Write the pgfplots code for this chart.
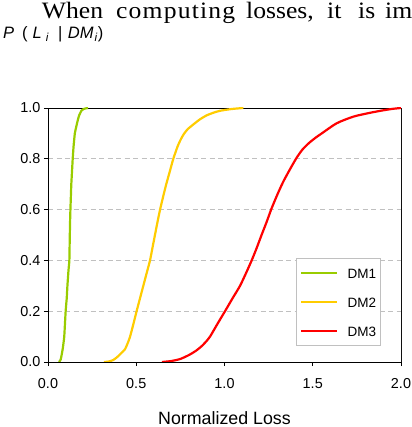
\documentclass[border=0pt]{standalone}
\usepackage{fontspec}
\setmainfont{Liberation Sans}
\newfontfamily\paperfont[FakeStretch=1.09]{Liberation Serif}
\usepackage{pgfplots}
\pgfplotsset{compat=1.18}

\definecolor{dmgreen}{HTML}{99CC00}
\definecolor{dmyellow}{HTML}{FFCC00}
\definecolor{dmred}{HTML}{FF0000}
\definecolor{gridgray}{HTML}{C0C0C0}
\definecolor{boxgray}{HTML}{808080}

\newcommand\ticksize{\fontsize{14.4bp}{17bp}\selectfont}

\begin{document}
\begin{tikzpicture}[x=1bp,y=1bp]
\path[use as bounding box] (0,0) rectangle (412,427);

% running text of the page above the figure
\begin{scope}[every node/.style={anchor=base west, inner sep=0pt,
    font=\paperfont\fontsize{23.5bp}{27bp}\selectfont}]
  \node at (41.7,408.5) {When};
  \node at (116,408.5) {\addfontfeature{LetterSpace=5}computing};
  \node at (246,408.5) {losses,};
  \node at (327,408.5) {it};
  \node at (358,408.5) {is};
  \node at (385,408.5) {im};
\end{scope}

\begin{axis}[
  at={(48bp,65bp)}, anchor=south west,
  scale only axis, width=353bp, height=254bp,
  xmin=0, xmax=2, ymin=0, ymax=1,
  xtick={0,0.5,...,2}, ytick={0,0.2,...,1},
  xtick pos=left, ytick pos=left,
  tick align=outside, major tick length=4bp,
  tick style={black, line width=0.8bp},
  axis line style={black, line width=0.8bp},
  ymajorgrids,
  grid style={gridgray, line width=0.8bp, dash pattern=on 5bp off 3.5bp},
  ticklabel style={font=\ticksize},
  xticklabel style={yshift=-9bp},
  /pgf/number format/.cd, fixed, fixed zerofill, precision=1,
  assume math mode=true, /pgfplots/.cd,
  xlabel={Normalized Loss},
  xlabel style={font=\fontsize{17.8bp}{20bp}\selectfont, at={(axis description cs:0.5,0)},
    anchor=base, inner sep=0pt, yshift=-62bp},
  ylabel={\textit{P}\hspace{8bp}(\hspace{5bp}\textit{L}\hspace{4bp}\textsubscript{\textit{i}}\hspace{9bp}|\hspace{5.5bp}\textit{DM}\hspace{1bp}\textsubscript{\textit{i}})},
  ylabel style={font=\fontsize{16.5bp}{20bp}\selectfont, rotate=-90,
    at={(axis description cs:0,1)}, anchor=base west, inner sep=0pt,
    xshift=-45bp, yshift=69bp},
  no markers,
  every axis plot/.append style={line width=2.2bp, line join=round},
  legend style={at={(0.7025,0.409)}, anchor=north west,
    draw=gridgray, fill=white, line width=0.8bp,
    inner xsep=4bp, inner ysep=9.5bp, row sep=19bp,
    font=\fontsize{13.5bp}{16bp}\selectfont,
    nodes={inner sep=0bp, text height=10bp, text depth=0bp},
    /tikz/every odd column/.append style={column sep=9bp}},
  legend cell align=left,
  legend image code/.code={\draw[#1, sharp plot] (0bp,0bp) -- (36bp,0bp);},
]

\addplot[dmgreen, smooth, tension=0.3] coordinates {
  (0.062,0) (0.072,0.01) (0.083,0.05) (0.092,0.10) (0.100,0.20) (0.106,0.25)
  (0.110,0.30) (0.116,0.36) (0.121,0.40) (0.123,0.48) (0.125,0.55)
  (0.127,0.60) (0.130,0.66) (0.132,0.70) (0.136,0.75) (0.140,0.80)
  (0.145,0.85) (0.152,0.90) (0.158,0.92) (0.168,0.95) (0.176,0.97)
  (0.190,0.99) (0.205,0.997) (0.227,1.0)
};
\addlegendentry{DM1}

\addplot[dmyellow, smooth, tension=0.4] coordinates {
  (0.317,0) (0.345,0.002) (0.370,0.008) (0.393,0.02) (0.415,0.035)
  (0.436,0.05) (0.452,0.075) (0.465,0.10) (0.484,0.15) (0.502,0.20)
  (0.521,0.25) (0.540,0.30) (0.559,0.35) (0.578,0.40) (0.592,0.45)
  (0.606,0.50) (0.620,0.55) (0.635,0.60) (0.652,0.65) (0.670,0.70)
  (0.690,0.75) (0.710,0.80) (0.735,0.85) (0.755,0.88) (0.772,0.90)
  (0.792,0.917) (0.823,0.935) (0.860,0.955) (0.899,0.971) (0.940,0.982)
  (0.975,0.989) (1.040,0.996) (1.107,1.0)
};
\addlegendentry{DM2}

\addplot[dmred, smooth, tension=0.4] coordinates {
  (0.646,0) (0.700,0.004) (0.750,0.012) (0.800,0.028) (0.840,0.045)
  (0.870,0.062) (0.895,0.080) (0.918,0.10) (0.960,0.15) (1.003,0.20)
  (1.045,0.25) (1.088,0.30) (1.122,0.35) (1.154,0.40) (1.183,0.45)
  (1.210,0.50) (1.238,0.55) (1.267,0.605) (1.300,0.66) (1.333,0.71)
  (1.368,0.755) (1.405,0.80) (1.440,0.835) (1.480,0.863) (1.520,0.885)
  (1.551,0.90) (1.636,0.94) (1.730,0.966) (1.824,0.981) (1.900,0.991)
  (1.957,0.997) (2.0,1.0)
};
\addlegendentry{DM3}

\draw[boxgray, line width=0.8bp] (rel axis cs:1,0) -- (rel axis cs:1,1);
\end{axis}
\end{tikzpicture}
\end{document}
